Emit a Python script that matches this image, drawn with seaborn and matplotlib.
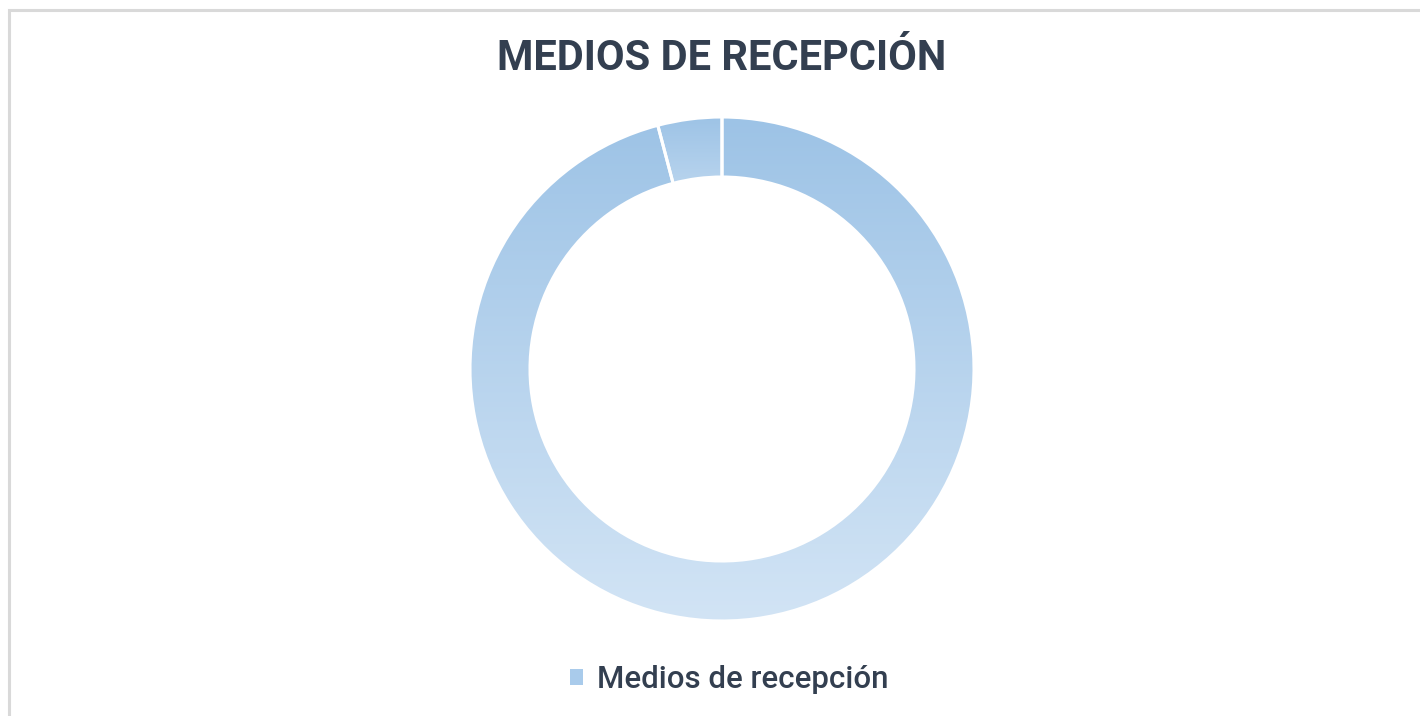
import numpy as np
import matplotlib.pyplot as plt
import seaborn as sns
from matplotlib.colors import LinearSegmentedColormap, to_rgb
from matplotlib.patches import Patch, Rectangle, Wedge

sns.set_theme(style="white")
plt.rcParams['font.family'] = ['Roboto', 'DejaVu Sans']

# datos
categorias = ["Medio A", "Medio B"]
valores = [95.9, 4.1]
serie = "Medios de recepción"
titulo = "MEDIOS DE RECEPCIÓN"

color_top = "#9DC3E6"
color_bottom = "#D2E4F5"
texto = "#333F50"

W, H = 1420, 716
fig = plt.figure(figsize=(W / 100, H / 100), dpi=100)

# borde del gráfico (sólo arriba/izquierda visibles)
fig.patches.append(Rectangle((8.5 / W, -0.1), 1.2, 1.1 - 10.5 / H, transform=fig.transFigure,
                             fill=False, edgecolor="#D9D9D9", linewidth=2.2))

cx, cy, r_px, pad = 722, 369, 252, 8
box = r_px + pad
ax = fig.add_axes([(cx - box) / W, (H - cy - box) / H, 2 * box / W, 2 * box / H])
lim = box / r_px
ax.set_aspect("equal")
ax.axis("off")

ancho = 60 / r_px
wedges, _ = ax.pie(valores, startangle=90, counterclock=False, radius=1,
                   wedgeprops=dict(width=ancho, facecolor="none", edgecolor="none"))

cmap = LinearSegmentedColormap.from_list("grad", [to_rgb(color_bottom), to_rgb(color_top)])
for w in wedges:
    ext = w.get_path().transformed(w.get_patch_transform()).get_extents()
    # degradado vertical propio de cada porción
    lo = 0.0 if (ext.y1 - ext.y0) > 1 else 0.5
    grad = np.linspace(lo, 1, 256).reshape(-1, 1)
    im = ax.imshow(grad, cmap=cmap, vmin=0, vmax=1, origin="lower", aspect="auto",
                   extent=[ext.x0, ext.x1, ext.y0, ext.y1], zorder=1)
    im.set_clip_path(w)
    ax.add_patch(Wedge(w.center, w.r, w.theta1, w.theta2, width=w.width,
                       facecolor="none", edgecolor="white", linewidth=2.2, zorder=2))
ax.set_xlim(-lim, lim)
ax.set_ylim(-lim, lim)

fig.text(cx / W, 1 - 59 / H, titulo, ha="center", va="center", fontsize=30,
         fontweight="bold", color=texto)

leg = fig.legend(handles=[Patch(facecolor="#A9CBEB", edgecolor="none", label=serie)],
                 loc="center", bbox_to_anchor=(729 / W, 1 - 680 / H), frameon=False,
                 prop={"size": 22.5, "weight": "medium"},
                 handlelength=0.42, handleheight=0.42, handletextpad=0.45)
for t in leg.get_texts():
    t.set_color(texto)

fig.savefig("out.png", dpi=100)
